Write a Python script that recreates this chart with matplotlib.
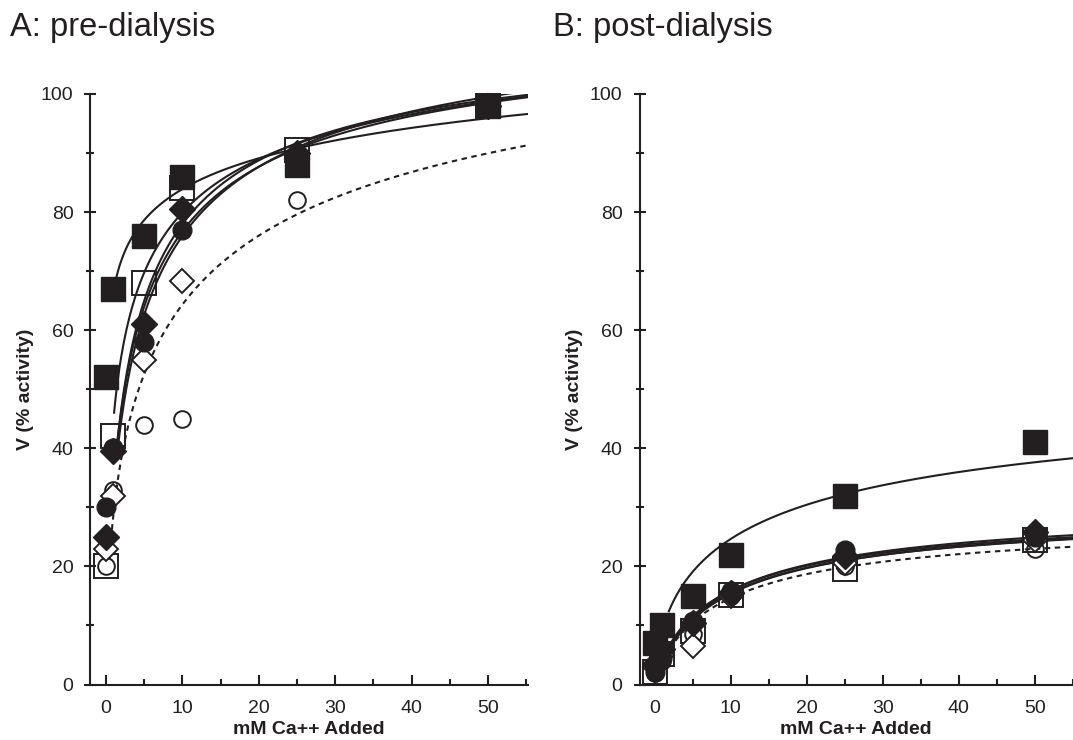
import numpy as np
import matplotlib.pyplot as plt

plt.rcParams['font.family'] = ['Liberation Sans', 'DejaVu Sans']
ink = '#231f20'

# Ca++ added (mM)
conc = [0, 1, 5, 10, 25, 50]

# A: pre-dialysis, V (% activity)
a_filled_sq = [52, 67, 76, 86, 88, 98]
a_open_sq = [20, 42, 68, 84, 90.5, 98]
a_filled_dia = [25, 39.5, 61, 80.5, 90, 98]
a_filled_circ = [30, 40, 58, 77, 89, 98]
a_open_dia = [23, 32, 55, 68.4, 89, 98]
a_open_circ = [20, 33, 44, 45, 82, 98]

# B: post-dialysis
b_filled_sq = [7, 10, 15, 22, 32, 41]
b_open_sq = [2.2, 5.2, 9, 15.1, 19.5, 24.4]
b_filled_dia = [3.5, 6, 10.4, 15.5, 21.7, 25.8]
b_filled_circ = [2.2, 4.5, 10.7, 15.8, 22.8, 25]
b_open_dia = [3, 5, 6.6, 15, 20.5, 24.5]
b_open_circ = [2, 4, 8.5, 15, 20, 23]

# fitted curves  V = Vmax / (1 + (K/x)^n), order: fsq, osq, fdia, fcirc, odia, ocirc(dotted)
a_fit_vmax = [160, 120, 113, 115, 118, 125]
a_fit_k = [6.0, 2.69, 3.3, 3.6, 4.2, 9.0]
a_fit_n = [0.19, 0.525, 0.72, 0.68, 0.68, 0.55]
a_fit_x0 = [1.4, 1.09, 1.3, 1.3, 1.5, 0.5]

b_fit_vmax = [55, 30.5, 30.9, 30.2, 30.0, 28.5]
b_fit_k = [14.06, 9.0, 9.35, 9.6, 9.2, 9.35]
b_fit_n = [0.61, 0.83, 0.85, 0.86, 0.85, 0.85]
b_fit_x0 = [1.86, 0.3, 0.3, 0.35, 0.3, 0.3]


def hill(x, vmax, k, n):
    return vmax / (1 + (k / x) ** n)


fig = plt.figure(figsize=(10.73, 7.40), dpi=100)
ax_a = fig.add_axes([0.0843, 0.075, 0.4078, 0.798])
ax_b = fig.add_axes([0.5960, 0.075, 0.4040, 0.798])


def panel(ax, series, vmax, k, n, x0, xmax):
    for i in range(6):
        xs = np.linspace(x0[i], 55.5, 300)
        ls = (0, (2.6, 2.2)) if i == 5 else '-'
        ax.plot(xs, hill(xs, vmax[i], k[i], n[i]), color=ink, lw=1.5, ls=ls, zorder=2)

    fsq, osq, fdia, fcirc, odia, ocirc = series
    mk = dict(ls='none', color=ink, mec=ink, clip_on=False, zorder=3)
    ax.plot(conc, osq, marker='s', ms=17.5, mfc='none', mew=1.4, **mk)
    ax.plot(conc, ocirc, marker='o', ms=12, mfc='none', mew=1.4, **mk)
    ax.plot(conc, odia, marker='D', ms=12.5, mfc='white', mew=1.4, **mk)
    ax.plot(conc, fcirc, marker='o', ms=13.5, mfc=ink, mew=1, **mk)
    ax.plot(conc, fdia, marker='D', ms=13, mfc=ink, mew=1, **mk)
    ax.plot(conc, fsq, marker='s', ms=17.5, mfc=ink, mew=1, **mk)

    ax.set_xlim(-2, xmax)
    ax.set_ylim(0, 100)
    ax.spines['top'].set_visible(False)
    ax.spines['right'].set_visible(False)
    for s in ['left', 'bottom']:
        ax.spines[s].set_linewidth(1.5)
        ax.spines[s].set_color(ink)
    ax.set_xticks(range(0, 51, 10))
    ax.set_xticks(range(5, 56, 10), minor=True)
    ax.set_yticks(range(0, 101, 20))
    ax.set_yticks(range(10, 100, 20), minor=True)
    ax.tick_params(axis='x', which='major', direction='in', length=7.5, width=1.5,
                   pad=11, labelsize=14, color=ink, labelcolor=ink)
    ax.tick_params(axis='x', which='minor', direction='in', length=4, width=1.5, color=ink)
    ax.tick_params(axis='y', which='major', direction='inout', length=8.5, width=1.5,
                   pad=8, labelsize=14, color=ink, labelcolor=ink)
    ax.tick_params(axis='y', which='minor', direction='inout', length=5.5, width=1.5, color=ink)
    ax.set_xlabel('mM Ca++ Added', fontsize=14, fontweight='bold', color=ink, labelpad=3)
    ax.set_ylabel('V (% activity)', fontsize=14, fontweight='bold', color=ink, labelpad=5)


panel(ax_a, [a_filled_sq, a_open_sq, a_filled_dia, a_filled_circ, a_open_dia, a_open_circ],
      a_fit_vmax, a_fit_k, a_fit_n, a_fit_x0, 55.2)
panel(ax_b, [b_filled_sq, b_open_sq, b_filled_dia, b_filled_circ, b_open_dia, b_open_circ],
      b_fit_vmax, b_fit_k, b_fit_n, b_fit_x0, 54.2)

fig.text(0.0093, 1 - 36 / 740, 'A: pre-dialysis', fontsize=23.5, color=ink, va='baseline')
fig.text(0.5154, 1 - 36 / 740, 'B: post-dialysis', fontsize=23.5, color=ink, va='baseline')

fig.savefig('out.png', dpi=100)
